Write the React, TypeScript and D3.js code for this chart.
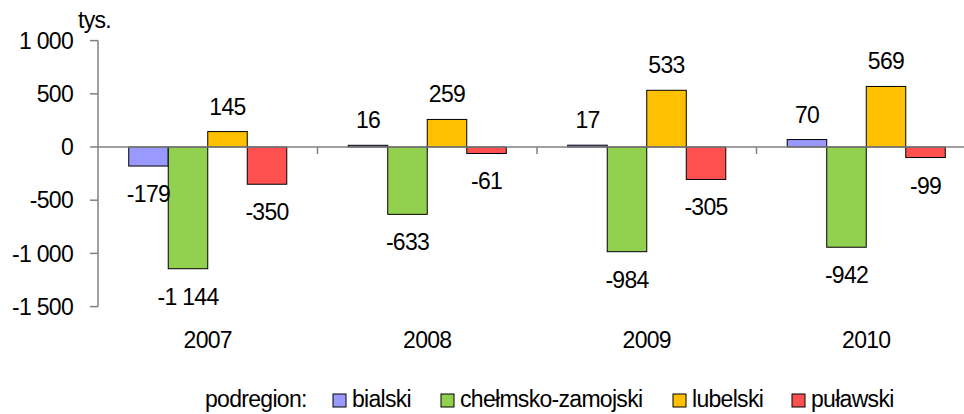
import React from "react";
import * as d3 from "d3";

const years = ["2007", "2008", "2009", "2010"];
const seriesNames = ["bialski", "chełmsko-zamojski", "lubelski", "puławski"];
const bialski = [-179, 16, 17, 70];
const chelmskoZamojski = [-1144, -633, -984, -942];
const lubelski = [145, 259, 533, 569];
const pulawski = [-350, -61, -305, -99];
const seriesValues = [bialski, chelmskoZamojski, lubelski, pulawski];
const seriesColors = ["#9999FF", "#92D050", "#FFC000", "#FF5050"];
const yTicks = [1000, 500, 0, -500, -1000, -1500];

const W = 964;
const H = 414;
const FONT = "'Liberation Sans', Arial, Helvetica, sans-serif";
const FS = 23;
const LS = -0.7;

const fmt = (v: number) => {
  const s = Math.abs(v).toString().replace(/\B(?=(\d{3})+(?!\d))/g, " ");
  return (v < 0 ? "-" : "") + s;
};

export default function App() {
  const x0 = d3.scaleBand<string>().domain(years).range([98, 976]);
  const bw = x0.bandwidth();
  const x1 = d3
    .scaleBand<string>()
    .domain(seriesNames)
    .range([bw * 0.14, bw * 0.86]);
  const y = d3.scaleLinear().domain([-1500, 1000]).range([306.6, 40.6]);
  const zeroY = y(0);

  const legendX = [333, 441, 673, 792];

  return (
    <svg
      width={W}
      height={H}
      style={{ position: "absolute", left: 0, top: 0, background: "#fff" }}
      fontFamily={FONT}
      fontSize={FS}
      letterSpacing={LS}
    >
      <rect x={0} y={0} width={W} height={H} fill="#fff" />
      {/* bars */}
      {years.map((yr, i) => (
        <g key={yr} transform={`translate(${x0(yr)},0)`}>
          {seriesNames.map((s, j) => {
            const v = seriesValues[j][i];
            const top = y(Math.max(0, v));
            const bottom = y(Math.min(0, v));
            return (
              <rect
                key={s}
                x={x1(s)}
                y={top}
                width={x1.bandwidth()}
                height={Math.max(0.5, bottom - top)}
                fill={seriesColors[j]}
                stroke="#000"
                strokeWidth={1}
              />
            );
          })}
        </g>
      ))}
      {/* y axis */}
      <line x1={98} x2={98} y1={y(1000)} y2={y(-1500)} stroke="#808080" strokeWidth={1.5} />
      {yTicks.map((t) => (
        <g key={t}>
          <line x1={90} x2={98} y1={y(t)} y2={y(t)} stroke="#808080" strokeWidth={1.5} />
          <text x={73} y={y(t)} dy="0.36em" textAnchor="end" fill="#000">
            {fmt(t)}
          </text>
        </g>
      ))}
      {/* zero line */}
      <line x1={98} x2={W} y1={zeroY} y2={zeroY} stroke="#808080" strokeWidth={1.5} />
      {years.map((yr) => (
        <line
          key={"t" + yr}
          x1={(x0(yr) as number) + bw}
          x2={(x0(yr) as number) + bw}
          y1={zeroY}
          y2={zeroY + 7}
          stroke="#808080"
          strokeWidth={1.5}
        />
      ))}
      {/* value labels */}
      {years.map((yr, i) => (
        <g key={"l" + yr} transform={`translate(${x0(yr)},0)`}>
          {seriesNames.map((s, j) => {
            const v = seriesValues[j][i];
            const cx = (x1(s) as number) + x1.bandwidth() / 2;
            const ty = v >= 0 ? y(v) - 17 : y(v) + 36;
            return (
              <text key={s} x={cx} y={ty} textAnchor="middle" fill="#000">
                {fmt(v)}
              </text>
            );
          })}
        </g>
      ))}
      {/* category labels */}
      {years.map((yr) => (
        <text
          key={"c" + yr}
          x={(x0(yr) as number) + bw / 2}
          y={348}
          textAnchor="middle"
          fill="#000"
        >
          {yr}
        </text>
      ))}
      {/* unit */}
      <text x={78} y={28} fill="#000">
        tys.
      </text>
      {/* legend */}
      <text x={205} y={407} fill="#000">
        podregion:
      </text>
      {seriesNames.map((s, j) => (
        <g key={"lg" + s}>
          <rect
            x={legendX[j]}
            y={394}
            width={13}
            height={13}
            fill={seriesColors[j]}
            stroke="#000"
            strokeWidth={1}
          />
          <text x={legendX[j] + 19} y={407} fill="#000">
            {s}
          </text>
        </g>
      ))}
    </svg>
  );
}
